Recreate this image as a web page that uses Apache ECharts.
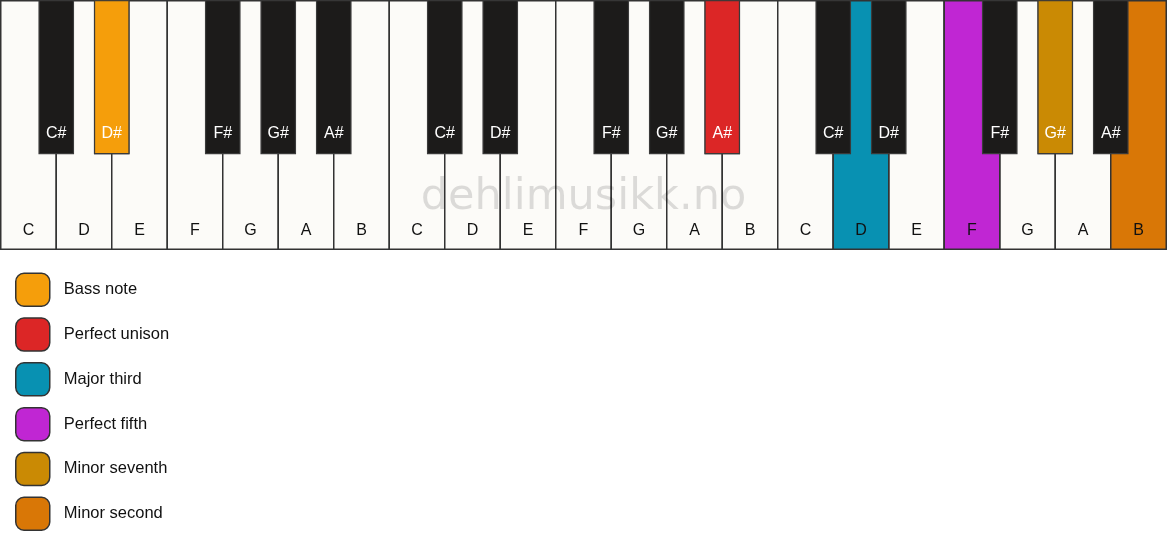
<!DOCTYPE html>
<html>
<head>
<meta charset="utf-8">
<script src="https://cdn.jsdelivr.net/npm/echarts@6/dist/echarts.min.js"></script>
<style>
  html, body { margin: 0; padding: 0; background: #ffffff; }
  #chart { width: 1167px; height: 550px; }
</style>
</head>
<body>
<div id="chart"></div>
<script>
// ---- data ----
const octaveCount = 3;
const whiteNames = ['C', 'D', 'E', 'F', 'G', 'A', 'B'];
const blackNames = ['C#', 'D#', 'F#', 'G#', 'A#'];
const blackAfterWhite = [0, 1, 3, 4, 5]; // white key (in octave) each black key follows
const intervalNames = ['Bass note', 'Perfect unison', 'Major third', 'Perfect fifth', 'Minor seventh', 'Minor second'];
const intervalNotes = ['D#', 'A#', 'D', 'F', 'G#', 'B'];
const intervalOctaves = [0, 1, 2, 2, 2, 2];
const intervalColors = ['#F59E0B', '#DC2626', '#0891B2', '#C026D3', '#CA8A04', '#D97706'];
const watermark = 'dehlimusikk.no';

// ---- style constants ----
const FONT = '"Liberation Sans", Arial, sans-serif';
const WHITE_FILL = '#fcfbf8';
const BLACK_FILL = '#1c1b1a';
const BORDER = '#333333';
const BLACK_W = 0.62;     // black key width in white-key units
const BLACK_DEPTH = 0.615; // black key length as fraction of keyboard height

// ---- build key lists ----
const whiteKeys = [];
for (let o = 0; o < octaveCount; o++) {
  whiteNames.forEach((n, i) => whiteKeys.push({ pos: o * 7 + i, name: n }));
}
const blackKeys = [];
for (let o = 0; o < octaveCount; o++) {
  blackNames.forEach((n, j) => blackKeys.push({ pos: o * 7 + blackAfterWhite[j] + 1, name: n }));
}

function whiteShape(api, pos, fill, name, textFill) {
  const p0 = api.coord([pos, 1]);
  const p1 = api.coord([pos + 1, 0]);
  return {
    type: 'group',
    children: [
      { type: 'rect', shape: { x: p0[0], y: p0[1], width: p1[0] - p0[0], height: p1[1] - p0[1] },
        style: { fill: fill, stroke: BORDER, lineWidth: 1.5 } },
      { type: 'text', x: (p0[0] + p1[0]) / 2, y: p1[1] - 19,
        style: { text: name, fill: textFill, fontSize: 16, fontFamily: FONT, align: 'center', verticalAlign: 'middle' } }
    ]
  };
}
function blackShape(api, pos, fill, name, textFill) {
  const p0 = api.coord([pos - BLACK_W / 2, 1]);
  const p1 = api.coord([pos + BLACK_W / 2, 1 - BLACK_DEPTH]);
  return {
    type: 'group',
    children: [
      { type: 'rect', shape: { x: p0[0], y: p0[1], width: p1[0] - p0[0], height: p1[1] - p0[1] },
        style: { fill: fill, stroke: '#3a3a3a', lineWidth: 1.2 } },
      { type: 'text', x: (p0[0] + p1[0]) / 2, y: p1[1] - 20,
        style: { text: name, fill: textFill, fontSize: 16, fontFamily: FONT, align: 'center', verticalAlign: 'middle' } }
    ]
  };
}

const series = [
  {
    type: 'custom', name: 'white', z: 1, silent: true,
    data: whiteKeys.map(k => [k.pos]),
    renderItem: (params, api) => whiteShape(api, api.value(0), WHITE_FILL, whiteKeys[params.dataIndex].name, '#111111')
  },
  {
    type: 'custom', name: 'black', z: 3, silent: true,
    data: blackKeys.map(k => [k.pos]),
    renderItem: (params, api) => blackShape(api, api.value(0), BLACK_FILL, blackKeys[params.dataIndex].name, '#ffffff')
  }
];

intervalNames.forEach((nm, idx) => {
  const note = intervalNotes[idx];
  const o = intervalOctaves[idx];
  const isBlack = note.indexOf('#') >= 0;
  const pos = isBlack ? o * 7 + blackAfterWhite[blackNames.indexOf(note)] + 1 : o * 7 + whiteNames.indexOf(note);
  const color = intervalColors[idx];
  series.push({
    type: 'custom', name: nm, z: isBlack ? 4 : 2, silent: true,
    itemStyle: { color: color },
    data: [[pos]],
    renderItem: (params, api) => isBlack
      ? blackShape(api, api.value(0), color, note, '#ffffff')
      : whiteShape(api, api.value(0), color, note, '#111111')
  });
});

const chart = echarts.init(document.getElementById('chart'), null, { renderer: 'canvas' });
chart.setOption({
  animation: false,
  backgroundColor: '#ffffff',
  grid: { left: 0.75, right: 0.75, top: 0.75, height: 248.5 },
  xAxis: { type: 'value', min: 0, max: whiteKeys.length, show: false },
  yAxis: { type: 'value', min: 0, max: 1, show: false },
  legend: {
    data: intervalNames,
    orient: 'vertical',
    left: 10, top: 267.5,
    itemWidth: 34, itemHeight: 33, itemGap: 10.3,
    icon: 'roundRect',
    selectedMode: false,
    itemStyle: { borderColor: '#333333', borderWidth: 1.5 },
    textStyle: { fontSize: 16.5, color: '#111111', fontFamily: FONT, padding: [0, 0, 0, 9] }
  },
  graphic: [{
    type: 'text', z: 100, silent: true,
    left: 'center', top: 176,
    style: { text: watermark, fontSize: 43, fontFamily: '"DejaVu Sans", sans-serif', fill: 'rgba(0,0,0,0.13)' }
  }],
  series: series
});
</script>
</body>
</html>
